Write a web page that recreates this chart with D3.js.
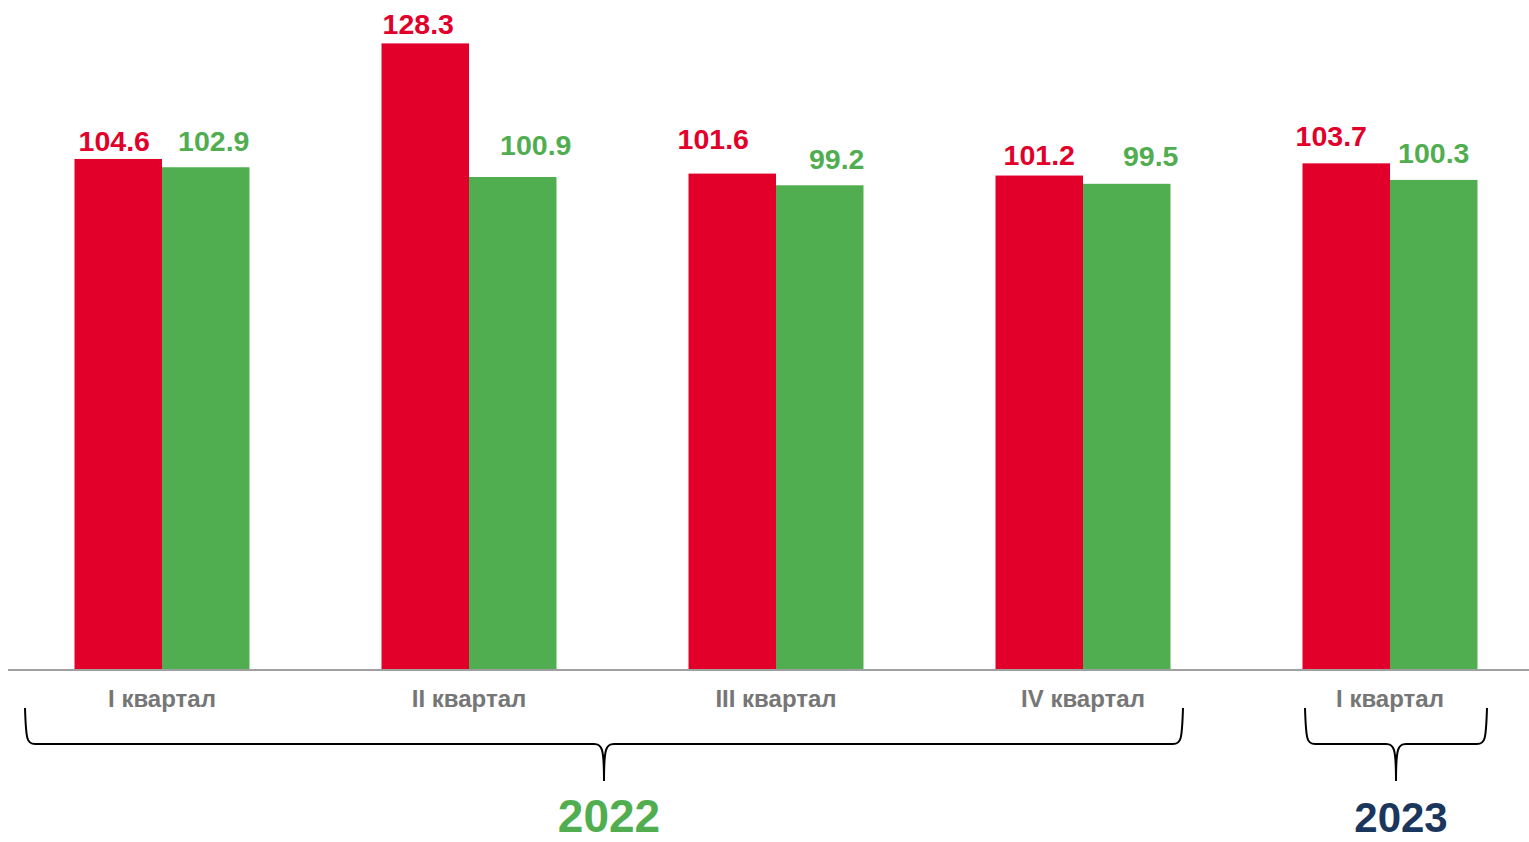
<!DOCTYPE html>
<html>
<head>
<meta charset="utf-8">
<script src="https://cdn.jsdelivr.net/npm/d3@7"></script>
<style>
  html, body { margin: 0; padding: 0; background: #fff; }
  svg { display: block; }
  text { font-family: "Liberation Sans", Arial, sans-serif; font-weight: bold; }
</style>
</head>
<body>
<svg id="chart" width="1529" height="842"></svg>
<script>
// data
const quarters = ["I квартал", "II квартал", "III квартал", "IV квартал", "I квартал "];
const seriesKeys = ["red", "green"];
const redValues = [104.6, 128.3, 101.6, 101.2, 103.7];
const greenValues = [102.9, 100.9, 99.2, 99.5, 100.3];
const years = [
  { label: "2022", from: 0, to: 3 },
  { label: "2023", from: 4, to: 4 }
];

// hand-placed label nudges (the source chart has them moved by hand)
const labelDx = { red: [-4, -7, -19, 0, -15], green: [8, 23, 17, 24, 0] };
const labelDy = { red: [-8, -9, -25, -11, -17], green: [-16, -22, -16, -18, -17] };

const colors = { red: "#E2002B", green: "#50AE50" };
const yearColors = { "2022": "#50AE50", "2023": "#1B365D" };
const yearSize = { "2022": 46, "2023": 42 };
const braceExt = { "2022": [-137, 100], "2023": [-85, 97] };

const svg = d3.select("#chart");
const baseY = 669;

const x0 = d3.scaleBand()
    .domain(d3.range(quarters.length))
    .range([8.5, 1543.5])
    .paddingInner(0.43)
    .paddingOuter(0.215);

const x1 = d3.scaleBand()
    .domain(seriesKeys)
    .range([0, x0.bandwidth()]);

const y = d3.scaleLinear()
    .domain([0, 137.2])
    .range([baseY, 0]);

const rows = quarters.map((q, i) => ({ i: i, q: q, red: redValues[i], green: greenValues[i] }));

const groups = svg.append("g").selectAll("g")
    .data(rows)
    .join("g")
    .attr("transform", d => "translate(" + x0(d.i) + ",0)");

groups.selectAll("rect")
    .data(d => seriesKeys.map(k => ({ key: k, value: d[k], i: d.i })))
    .join("rect")
    .attr("x", d => x1(d.key))
    .attr("y", d => y(d.value))
    .attr("width", x1.bandwidth())
    .attr("height", d => y(0) - y(d.value))
    .attr("fill", d => colors[d.key]);

groups.selectAll("text.val")
    .data(d => seriesKeys.map(k => ({ key: k, value: d[k], i: d.i })))
    .join("text")
    .attr("class", "val")
    .attr("x", d => x1(d.key) + x1.bandwidth() / 2 + labelDx[d.key][d.i])
    .attr("y", d => y(d.value) + labelDy[d.key][d.i])
    .attr("text-anchor", "middle")
    .attr("font-size", 28.5)
    .attr("fill", d => colors[d.key])
    .text(d => d.value.toFixed(1));

// axis line
svg.append("line")
    .attr("x1", 8).attr("x2", 1529)
    .attr("y1", baseY + 1).attr("y2", baseY + 1)
    .attr("stroke", "#A0A0A0")
    .attr("stroke-width", 2);

// category labels
svg.append("g").selectAll("text")
    .data(rows)
    .join("text")
    .attr("x", d => x0(d.i) + x0.bandwidth() / 2)
    .attr("y", 707)
    .attr("text-anchor", "middle")
    .attr("font-size", 24)
    .attr("fill", "#767676")
    .text(d => d.q.trim());

// braces
function brace(xl, xr, top, h, tip) {
    const r = 10;
    const xm = (xl + xr) / 2;
    const p = d3.path();
    p.moveTo(xl, top);
    p.bezierCurveTo(xl + 1, h - 4, xl + 2, h, xl + r, h);
    p.lineTo(xm - r, h);
    p.bezierCurveTo(xm - 2, h, xm, h + 4, xm, tip);
    p.moveTo(xr, top);
    p.bezierCurveTo(xr - 1, h - 4, xr - 2, h, xr - r, h);
    p.lineTo(xm + r, h);
    p.bezierCurveTo(xm + 2, h, xm, h + 4, xm, tip);
    return p.toString();
}

years.forEach(yr => {
    const xl = x0(yr.from) + x0.bandwidth() / 2 + braceExt[yr.label][0];
    const xr = x0(yr.to) + x0.bandwidth() / 2 + braceExt[yr.label][1];
    const xm = (xl + xr) / 2;
    svg.append("path")
        .attr("d", brace(xl, xr, 708, 744, 781))
        .attr("fill", "none")
        .attr("stroke", "#000")
        .attr("stroke-width", 2);
    svg.append("text")
        .attr("x", xm + 5)
        .attr("y", 832)
        .attr("text-anchor", "middle")
        .attr("font-size", yearSize[yr.label])
        .attr("fill", yearColors[yr.label])
        .text(yr.label);
});
</script>
</body>
</html>
